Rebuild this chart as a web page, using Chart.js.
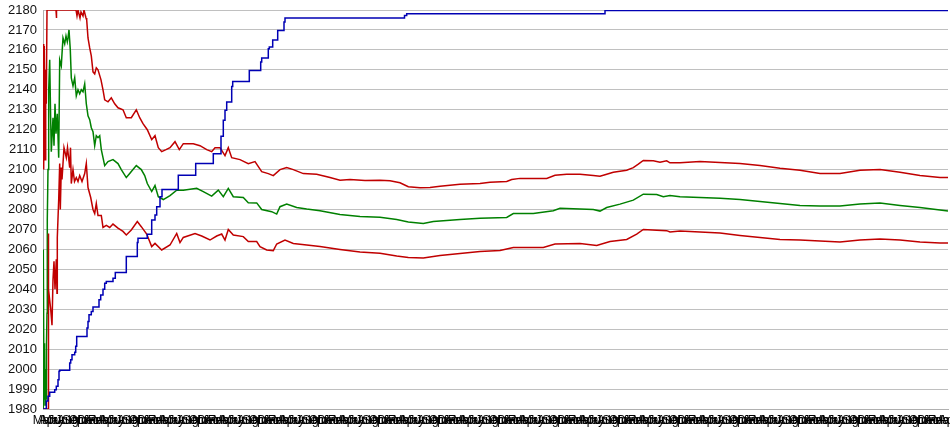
<!DOCTYPE html>
<html><head><meta charset="utf-8">
<script src="https://cdn.jsdelivr.net/npm/chart.js@4.4.0/dist/chart.umd.min.js"></script>
<style>html,body{margin:0;padding:0;background:#fff;}canvas{display:block;}</style>
</head><body>
<canvas id="c" width="950" height="435"></canvas>
<script>
// tick labels (cycled along the observation axis)
const monthLabels = ['Mar','Apr','May','Jun','Jul','Aug','Sep','Oct','Nov','Dec','Jan','Feb'];
const yMin = 1980, yMax = 2180, yStep = 10;
const obsMax = 905, obsStep = 5;

// blue staircase series
const blueX = [0,3.3,5,6.7,11.7,13.3,15,16,16.7,26.7,27.7,29,31.7,32.7,33.7,44,45,46,48.3,50,56,57.7,60,61.7,63.3,70,72.3,83.3,94.3,95,104.3,108.7,112,113.7,117,119,135.3,152.7,170.3,178,180.3,182,183.7,188.7,189.7,206.3,217.7,218.7,225.3,226.3,229.7,234.7,241,242,361.5,363.7,562,905];
const blueY = [1980,1984,1986.4,1988.4,1989.7,1991.4,1994.7,1998.9,1999.4,2003,2004.7,2007.2,2008.4,2011.4,2016.4,2020.6,2023.9,2027.2,2028.9,2031.1,2034.7,2037.2,2040,2043,2043.9,2045.6,2048.4,2056.4,2063.4,2065.6,2067.6,2074.7,2077.2,2081.4,2086.4,2090,2097.2,2103,2108,2116.7,2124.7,2129.7,2133.9,2141.7,2144.2,2149.7,2153.9,2156,2160.6,2161.4,2165,2169.7,2174,2176,2177.2,2178.1,2179.7,2179.7];

// upper band (red)
const upperX = [0,0.7,1.3,2,2.7,3.3,4,13,13.3,13.7,33,34,35,37,38,40,41,43,43.7,45,46.7,48.3,50,51.7,53.3,55,58,60,61.7,65,68.3,71.7,75,80,83.3,88.3,93.3,96.7,100,104.3,108.7,112,115.3,118.7,123,127,132,136.3,140.3,150.3,157,163.7,168.7,172,177,182,185.3,188.7,197,205.3,212,218.7,225.3,230.3,237,243.7,250.3,260.3,273.7,287,297,307,322,337,347,357,365.3,377,387,397,417,437,447,463.7,468.7,477,503.7,512,523.7,537,550.3,557,563.7,570.3,583.7,590.3,595.3,600.3,610.3,617,623.7,627,637,657,677,697,717,737,757,777,797,817,837,857,877,897,905];
const upper = [2163,2100,2162,2105,2150,2133,2180,2180,2176,2180,2180,2177,2180,2176,2179,2177,2180,2176,2175,2166,2161,2157,2149,2148,2151,2150,2145,2140,2135,2134,2136,2133,2131,2130,2126,2126,2130,2126,2123,2120,2115,2117,2111,2109,2110,2111,2114,2110,2113,2113,2112,2110,2109,2111,2111,2107,2111,2106,2105,2103,2104,2099,2098,2097,2100,2101,2100,2098,2097.7,2096,2094.7,2095,2094.5,2094.7,2094.4,2093.4,2091.4,2090.9,2091,2091.7,2092.7,2093,2093.6,2094,2095,2095.6,2095.6,2097.2,2097.7,2097.7,2097,2096.7,2097.7,2098.7,2099.7,2101,2102.7,2104.6,2104.4,2103.7,2104.4,2103.4,2103.4,2104,2103.5,2103,2102,2100.7,2099.7,2098,2098,2099.7,2100,2098.7,2097,2096,2096];

// middle line (green)
const middleX = [0,0.3,1,1.5,2,2.5,3,3.5,4,4.3,5,5.7,6.7,7.5,8.3,10,11,12,13,14.3,15.7,16.7,18.3,19,20,21.7,23,24.3,25,26,27.3,28.3,30,31.7,33.3,35,36.7,38.3,40,41.7,43.3,45,46.7,48.3,50,51.7,53.3,55,56.7,58.3,60,61.7,65,70,75,78.3,83.3,86.7,90,93.3,98.3,101.7,104.3,108.7,112,115.3,120.3,127,133.7,140.3,153.7,160.3,168.7,175.3,180.3,185.3,190.3,200.3,205.3,213.7,218.7,228.7,233.7,237,243.7,253.7,263.7,277,297,317,337,353.7,365.3,380.3,390.3,417,437,463.7,470.3,490.3,510.3,517,550.3,557,563.7,577,590.3,600.3,613.7,620.3,627,637,657,677,697,717,737,757,777,797,817,837,857,877,897,905];
const middle = [1980,2060,1985,2013,1982,2000,1985,2013,2028,2075,2100,2140,2155,2130,2109,2126,2112,2133,2118,2128,2106,2155,2152,2158,2166,2163,2167,2164,2166,2170,2160,2146,2142,2146,2137,2140,2138,2140,2139,2143,2133,2127,2125,2121,2119,2112,2117,2116,2117,2110,2106,2102,2104,2105,2103,2100,2096,2098,2100,2102,2100,2097,2093,2089,2092,2086.4,2085,2087,2089.7,2089.7,2090.6,2089,2086.7,2089.7,2086.4,2090.6,2086.4,2086,2083.4,2083.3,2080,2078.9,2077.7,2081.4,2082.7,2081,2080.2,2079.4,2077.5,2076.5,2076.1,2075,2073.7,2073,2074,2075,2075.6,2076,2078,2078,2079.4,2080.6,2080,2079.2,2081,2082.7,2084.7,2087.7,2087.5,2086.4,2087,2086.4,2086,2085.7,2085,2084,2083,2082,2081.7,2081.7,2082.7,2083.2,2082,2081,2079.7,2079.2];

// lower band (red)
const lowerX = [0,5,5.3,5.7,7.7,9,10,11,12,13.3,14,14.3,15.7,16.7,17.3,18.3,19,21,23.3,24.5,26.7,27.5,28.3,30,31.5,33.3,35,36.7,39,41.7,43.3,45,47.7,50,51.7,53.3,55,58.3,60,63.3,66.7,70,75,80,83.3,88.3,94.3,97,98.3,103.7,108.7,112,118.7,127,133.7,137,140.3,152,158.7,167,173.7,178.7,182,185.3,190.3,200.3,205.3,213.7,217,223.7,230.3,233.7,242,250.3,263.7,277,297,317,337,353.7,365.3,380.3,397,417,437,457,470.3,500.3,512,537,553.7,567,583.7,593.7,600.3,613.7,623.7,627,637,657,677,697,717,737,757,777,797,817,837,857,877,897,905];
const lower = [1980,1980,2068,2040,2030,2022,2045,2054,2040,2055,2038,2066,2085,2103,2080,2101,2095,2111,2106,2111,2101,2111,2093,2100,2094,2096,2094,2097,2094,2098,2103,2091,2086,2080,2078,2083,2077,2077,2071,2072,2071,2072.7,2070.7,2069,2067.2,2069.7,2074,2072.2,2071.4,2067.7,2061.4,2063,2059.7,2062.2,2068,2063.4,2066,2068,2066.7,2064.7,2066.7,2067.7,2064.7,2070,2067.2,2066.4,2063.9,2063.9,2061.4,2059.7,2059.4,2062.7,2064.7,2063,2062.2,2061.4,2060,2058.7,2058.1,2056.7,2056,2055.7,2057,2058,2059,2059.4,2061,2061,2062.7,2063,2062,2064,2065,2067.7,2070,2069.6,2069.4,2068.7,2069.2,2068.7,2068.2,2067,2066,2065,2064.7,2064.2,2063.7,2064.7,2065.2,2064.7,2063.7,2063.2,2063.2];

const pts = (xs, ys) => xs.map((x, i) => ({x: x, y: ys[i]}));
const FONT = {family: "'Liberation Sans', Arial, sans-serif", size: 12};

new Chart(document.getElementById('c'), {
  type: 'line',
  data: {
    datasets: [
      {data: pts(blueX, blueY), borderColor: '#0000b4', borderWidth: 1.5, stepped: true, pointRadius: 0},
      {data: pts(upperX, upper), borderColor: '#c00000', borderWidth: 1.5, pointRadius: 0, tension: 0},
      {data: pts(lowerX, lower), borderColor: '#c00000', borderWidth: 1.5, pointRadius: 0, tension: 0},
      {data: pts(middleX, middle), borderColor: '#008000', borderWidth: 1.5, pointRadius: 0, tension: 0}
    ]
  },
  options: {
    responsive: false,
    animation: false,
    devicePixelRatio: 1,
    layout: {padding: {top: 10, right: 2, left: 0, bottom: 0}},
    plugins: {legend: {display: false}, tooltip: {enabled: false}},
    scales: {
      x: {
        type: 'linear', min: 0, max: obsMax,
        grid: {display: false, drawTicks: false},
        border: {display: true, color: '#b0b0b0'},
        ticks: {
          stepSize: obsStep, autoSkip: false, maxRotation: 0, minRotation: 0,
          padding: 4, color: '#000', font: FONT,
          callback: (v, i) => monthLabels[i % monthLabels.length]
        },
        afterFit: (s) => { s.paddingLeft = 0; s.paddingRight = 0; s.height = 26; }
      },
      y: {
        min: yMin, max: yMax,
        grid: {color: '#c0c0c0', drawTicks: false},
        border: {display: true, color: '#b0b0b0'},
        ticks: {stepSize: yStep, padding: 6, color: '#111', font: {family: FONT.family, size: 13},
          callback: (v) => String(v)},
        afterFit: (s) => { s.width = 43; s.paddingTop = 0; s.paddingBottom = 0; }
      }
    }
  }
});
</script>
</body></html>
